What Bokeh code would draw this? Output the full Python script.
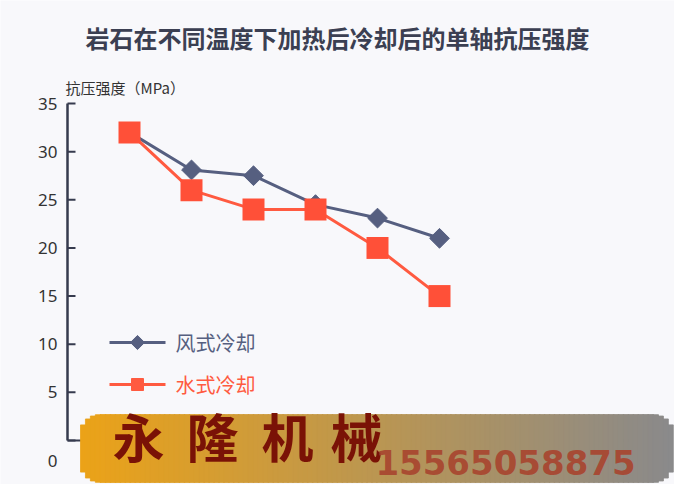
import numpy as np
from bokeh.plotting import figure
from bokeh.models import Range1d
from bokeh.core.properties import value
from bokeh.embed import file_html
from bokeh.resources import INLINE

# ---- data ----
stages = [0, 1, 2, 3, 4, 5]
air_cooling = [32.0, 28.1, 27.5, 24.5, 23.1, 21.0]
water_cooling = [32.0, 26.0, 24.0, 24.0, 20.0, 15.0]
y_ticks = [0, 5, 10, 15, 20, 25, 30, 35]
series_names = ["风式冷却", "水式冷却"]
title_text = "岩石在不同温度下加热后冷却后的单轴抗压强度"
y_title = "抗压强度（MPa）"
watermark_name = "永隆机械"
watermark_phone = "15565058875"

# ---- styles ----
BG = "#f8f8fb"
AXIS = "#363b4e"
TXT = "#333333"
BLUE = "#565f80"
RED = "#ff5a40"
CJK = "Noto Sans CJK SC"

# pixel (image) -> data helpers for layout of decorations
X0PX, XSTEP = 137.0, 62.0
Y0PX, YSCALE = 448.0, 337.0 / 35.0


def px2x(px):
    return (px - X0PX) / XSTEP


def px2y(py):
    return (Y0PX - py) / YSCALE


W, H = 674, 484
p = figure(width=W, height=H, output_backend="svg", toolbar_location=None,
           x_range=Range1d(px2x(8), px2x(682)), y_range=Range1d(px2y(492), px2y(8)),
           x_axis_location=None, y_axis_location=None, min_border=0,
           background_fill_color=BG, border_fill_color=BG, outline_line_color=None)
p.grid.visible = False

# y axis drawn from the tick list
xa = px2x(75)
n_t = len(y_ticks)
p.segment(x0=[xa], y0=[y_ticks[0]], x1=[xa], y1=[y_ticks[-1]], line_color=AXIS, line_width=2.5)
p.segment(x0=[xa] * n_t, y0=y_ticks, x1=[px2x(83)] * n_t, y1=y_ticks, line_color=AXIS, line_width=2)
p.segment(x0=[xa], y0=[y_ticks[0]], x1=[px2x(680)], y1=[y_ticks[0]], line_color=AXIS, line_width=2)
label_y = [t if t != 0 else px2y(468) for t in y_ticks]
p.text(x=[px2x(65)] * n_t, y=label_y, text=[str(t) for t in y_ticks], text_font=value("Noto Sans"),
       text_font_size="17px", text_color=TXT, text_align="right", text_baseline="middle")

# title and axis title
p.text(x=[px2x(345)], y=[px2y(45)], text=[title_text], text_font=value(CJK),
       text_font_style="bold", text_font_size="24px", text_color="#3b3f52",
       text_align="center", text_baseline="middle")
p.text(x=[px2x(73)], y=[px2y(95)], text=[y_title], text_font=value(CJK),
       text_font_size="15px", text_color=TXT, text_align="left", text_baseline="middle")

# series
p.line(stages, air_cooling, line_color=BLUE, line_width=3)
p.scatter(stages, air_cooling, marker="square", size=14, angle=np.pi / 4,
          fill_color=BLUE, line_color=BLUE)
p.line(stages, water_cooling, line_color=RED, line_width=3)
p.scatter(stages, water_cooling, marker="square", size=22, fill_color="#ff5038",
          line_color=None)

# legend (drawn by hand so that each label keeps its series colour)
for name, color, ypx, mk, sz, ang in ((series_names[0], BLUE, 350, "square", 10, np.pi / 4),
                                      (series_names[1], RED, 392, "square", 12, 0.0)):
    yy = px2y(ypx)
    p.segment(x0=[px2x(117)], y0=[yy], x1=[px2x(173)], y1=[yy], line_color=color, line_width=3)
    p.scatter(x=[px2x(145)], y=[yy], marker=mk, size=sz, angle=ang, fill_color=color, line_color=color)
    p.text(x=[px2x(183)], y=[yy], text=[name], text_font=value(CJK), text_font_size="20px",
           text_color=color, text_align="left", text_baseline="middle")

# watermark banner (decoration)
left, right, top, bottom, r = 88.0, 680.0, 422.0, 490.0, 20.0
n = 120
edges = np.linspace(left, right, n + 1)
c0 = np.array([236, 163, 24])
c1 = np.array([138, 138, 140])
qx0, qx1, qt, qb, qc = [], [], [], [], []
for i in range(n):
    a, b = edges[i], edges[i + 1]
    mid = 0.5 * (a + b)
    d = 0.0
    if mid < left + r:
        d = left + r - mid
    elif mid > right - r:
        d = mid - (right - r)
    off = r - np.sqrt(max(r * r - d * d, 0.0))
    t = (mid - left) / (right - left)
    c = (1 - t) * c0 + t * c1
    qx0.append(px2x(a)); qx1.append(px2x(b + 0.8))
    qt.append(px2y(top + off)); qb.append(px2y(bottom - off))
    qc.append("#%02x%02x%02x" % tuple(int(v) for v in c))
p.quad(left=qx0, right=qx1, top=qt, bottom=qb, fill_color=qc, line_color=qc, line_width=0.8)

for ch, cx in zip(watermark_name, [146, 220, 295, 364]):
    p.text(x=[px2x(cx)], y=[px2y(443)], text=[ch], text_font=value(CJK), text_font_style="bold",
           text_font_size="52px", text_color="#7a1206", text_align="center", text_baseline="middle")
p.text(x=[px2x(513)], y=[px2y(470)], text=[watermark_phone], text_font=value("DejaVu Sans"),
       text_font_style="bold", text_font_size="34px", text_color="#a8452f", text_alpha=0.92,
       text_align="center", text_baseline="middle")

open("out.html", "w").write(file_html(p, INLINE))
